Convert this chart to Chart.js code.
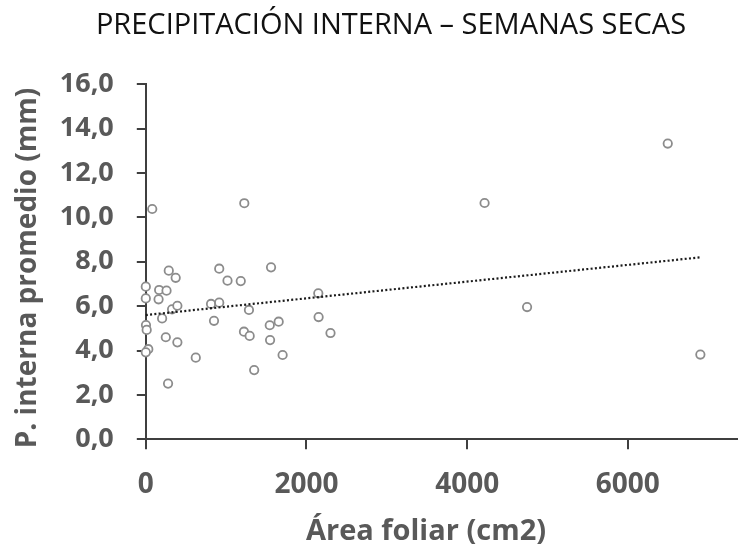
<!DOCTYPE html>
<html>
<head>
<meta charset="utf-8">
<script src="https://cdn.jsdelivr.net/npm/chart.js@4"></script>
<style>
  body { margin: 0; background: #fff; }
  #wrap { position: relative; width: 743px; height: 550px; }
</style>
</head>
<body>
<div id="wrap"><canvas id="myChart"></canvas></div>
<script>
'use strict';
let chartTitle = 'PRECIPITACIÓN INTERNA – SEMANAS SECAS';
let xTitle = 'Área foliar (cm2)';
let yTitle = 'P. interna promedio (mm)';

// area foliar (cm2) and mean internal precipitation (mm)
let areaFoliar = [80, 1226, 0, 286, 372, 166, 258, 0, 159, 327, 393, 203, 2, 11, 249, 393, 31, 0, 622, 277,
  914, 1017, 1182, 812, 914, 849, 1284, 1222, 1293, 1349, 1559, 1543, 1654, 1547, 1703,
  2147, 2151, 2299, 4217, 6497, 4746, 6903];
let pInterna = [10.38, 10.64, 6.88, 7.60, 7.28, 6.73, 6.70, 6.35, 6.31, 5.86, 6.02, 5.45, 5.15, 4.93, 4.60, 4.37, 4.06, 3.92, 3.68, 2.51,
  7.69, 7.15, 7.13, 6.10, 6.16, 5.34, 5.83, 4.85, 4.66, 3.12, 7.75, 5.14, 5.30, 4.47, 3.80,
  6.58, 5.51, 4.79, 10.65, 13.33, 5.96, 3.82];

// dotted linear trend line, ends
let trendX = [0, 6900];
let trendY = [5.6, 8.2];

let xTicks = [0, 2000, 4000, 6000];
let yTicks = [0, 2, 4, 6, 8, 10, 12, 14, 16];

let points = areaFoliar.map((x, i) => ({x: x, y: pInterna[i]}));
let trend = trendX.map((x, i) => ({x: x, y: trendY[i]}));

let axisColor = '#3f3f3f';
let labelColor = '#595959';

let titlesPlugin = {
  id: 'titles',
  afterDraw(chart) {
    let ctx = chart.ctx;
    ctx.save();
    ctx.textAlign = 'center';
    ctx.textBaseline = 'alphabetic';
    ctx.fillStyle = '#111';
    ctx.font = '29px "Open Sans"';
    ctx.fillText(chartTitle, 391, 34);
    ctx.fillStyle = labelColor;
    ctx.font = 'bold 29px "Open Sans"';
    ctx.fillText(xTitle, 426, 540);
    ctx.translate(36, 268);
    ctx.rotate(-Math.PI / 2);
    ctx.font = 'bold 28px "Open Sans"';
    ctx.fillText(yTitle, 0, 0);
    ctx.restore();
  }
};

let ctx = document.getElementById('myChart').getContext('2d');
let chart = new Chart(ctx, {
  type: 'scatter',
  data: {
    datasets: [
      {
        data: trend,
        showLine: true,
        borderColor: '#1a1a1a',
        borderWidth: 2.2,
        borderDash: [2, 2.3],
        pointRadius: 0,
        clip: false
      },
      {
        data: points,
        pointStyle: 'circle',
        pointRadius: 4.2,
        borderWidth: 1.8,
        borderColor: '#8c8c8c',
        backgroundColor: '#ffffff',
        clip: false
      }
    ]
  },
  options: {
    responsive: true,
    maintainAspectRatio: false,
    animation: false,
    layout: { padding: { top: 84.3, right: 0, bottom: 0, left: 0 } },
    plugins: { legend: { display: false }, tooltip: { enabled: false } },
    scales: {
      x: {
        type: 'linear',
        min: 0,
        max: 7359,
        afterBuildTicks: (scale) => { scale.ticks = xTicks.map(v => ({value: v})); },
        afterFit: (scale) => { scale.height = 110.7; },
        ticks: {
          color: labelColor,
          font: { family: 'Open Sans', size: 28, weight: 'bold' },
          padding: 19,
          maxRotation: 0,
          callback: (v) => String(v)
        },
        grid: { drawOnChartArea: false, tickLength: 10, color: axisColor, lineWidth: 2 },
        border: { color: axisColor, width: 2 }
      },
      y: {
        min: 0,
        max: 16,
        afterBuildTicks: (scale) => { scale.ticks = yTicks.map(v => ({value: v})); },
        afterFit: (scale) => { scale.width = 145.8; },
        ticks: {
          color: labelColor,
          font: { family: 'Open Sans', size: 27, weight: 'bold' },
          padding: 23,
          callback: (v) => v.toFixed(1).replace('.', ',')
        },
        grid: { drawOnChartArea: false, tickLength: 9, color: axisColor, lineWidth: 2 },
        border: { color: axisColor, width: 2 }
      }
    }
  },
  plugins: [titlesPlugin]
});
</script>
</body>
</html>
